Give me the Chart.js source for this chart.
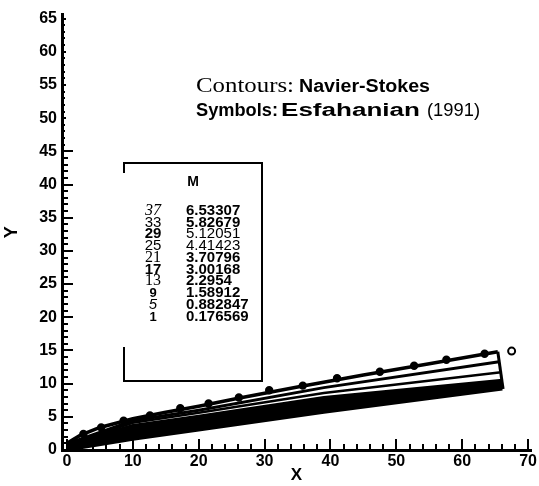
<!DOCTYPE html>
<html>
<head>
<meta charset="utf-8">
<script src="https://cdn.jsdelivr.net/npm/chart.js@4/dist/chart.umd.min.js"></script>
<style>
  html, body { margin: 0; padding: 0; background: #fff; overflow: hidden; }
  #c { display: block; }
</style>
</head>
<body>
<canvas id="c" width="539" height="486"></canvas>
<script>
// ---- Contour lines (Navier-Stokes), X/Y in body units ----
const shockX = [0, 2, 5, 10, 15, 20, 26, 35, 45, 55, 65.4];
const shockY = [1.0, 2.2, 3.4, 4.7, 5.7, 6.6, 7.8, 9.5, 11.3, 13.0, 14.8];

const contour2X = [0, 10, 20, 39, 65.6];
const contour2Y = [0.9, 4.4, 6.0, 9.4, 13.3];

const contour3X = [0, 10, 20, 39, 65.9];
const contour3Y = [0.8, 4.1, 5.6, 8.6, 11.7];

// dense band of contours next to the body surface
const bandX = [0, 10, 20, 39, 66.1];
const bandTopY = [0.8, 3.7, 5.1, 7.9, 10.5];
const bodyY = [0, 1.6, 3.0, 5.7, 9.2];

// outflow boundary
const edgeX = [65.4, 66.2];
const edgeY = [14.8, 9.2];

// ---- Symbols: Esfahanian (1991) ----
const symX = [2.5, 5.2, 8.6, 12.6, 17.2, 21.5, 26.1, 30.7, 35.8, 41.0, 47.5, 52.7, 57.6, 63.4, 67.5];
const symY = [2.4, 3.4, 4.4, 5.2, 6.3, 7.0, 7.9, 9.0, 9.7, 10.8, 11.8, 12.7, 13.6, 14.5, 14.9];

// ---- Contour level table ----
const levels = ['37', '33', '29', '25', '21', '17', '13', '9', '5', '1'];
const machValues = ['6.53307', '5.82679', '5.12051', '4.41423', '3.70796', '3.00168', '2.2954', '1.58912', '0.882847', '0.176569'];

// ---- Axis ticks ----
const xTickValues = [0, 10, 20, 30, 40, 50, 60, 70];
const yTickValues = [0, 5, 10, 15, 20, 25, 30, 35, 40, 45, 50, 55, 60, 65];

const SANS = '"Liberation Sans", Arial, sans-serif';
const SERIF = '"Liberation Serif", "Times New Roman", serif';

const zip = (xs, ys) => xs.map((x, i) => ({ x, y: ys[i] }));

function lineSet(xs, ys, width, extra) {
  return Object.assign({
    data: zip(xs, ys),
    showLine: true,
    borderColor: '#000',
    borderWidth: width,
    pointRadius: 0,
    fill: false,
    tension: 0
  }, extra || {});
}

const lastIdx = symX.length - 1;

const datasets = [
  {
    label: 'Esfahanian (1991)',
    data: zip(symX, symY),
    showLine: false,
    pointStyle: 'circle',
    pointRadius: symX.map((_, i) => i === lastIdx ? 3.5 : 3.2),
    pointBackgroundColor: symX.map((_, i) => i === lastIdx ? '#fff' : '#000'),
    pointBorderColor: '#000',
    pointBorderWidth: 2
  },
  lineSet(shockX, shockY, 3.5),
  lineSet(edgeX, edgeY, 3),
  lineSet(contour2X, contour2Y, 3),
  lineSet(contour3X, contour3Y, 2.5),
  lineSet(bandX, bandTopY, 3, { fill: '+1', backgroundColor: '#000' }),
  lineSet(bandX, bodyY, 3)
];

function fitText(ctx, text, font, x, yBase, width) {
  ctx.font = font;
  const w = ctx.measureText(text).width;
  ctx.save();
  ctx.translate(x, yBase);
  ctx.scale(width / w, 1);
  ctx.fillText(text, 0, 0);
  ctx.restore();
}

// Inside tick marks, annotation text and the level table
const decor = {
  id: 'decor',
  afterDraw(chart) {
    const { ctx, chartArea: a, scales: { x, y } } = chart;
    ctx.save();
    ctx.strokeStyle = '#000';
    ctx.lineWidth = 2;
    for (let v = 0; v <= 65; v++) {
      const py = Math.round(y.getPixelForValue(v));
      const major = v % 5 === 0;
      let len = major ? 11 : 6;
      if (v > 45) len = major ? 4 : 3;
      ctx.beginPath();
      ctx.moveTo(a.left, py);
      ctx.lineTo(a.left + len, py);
      ctx.stroke();
    }
    for (let v = 0; v <= 70; v += 2) {
      const px = Math.round(x.getPixelForValue(v));
      const len = v % 10 === 0 ? 11 : 6;
      ctx.beginPath();
      ctx.moveTo(px, a.bottom);
      ctx.lineTo(px, a.bottom - len);
      ctx.stroke();
    }

    // header
    ctx.fillStyle = '#000';
    ctx.textBaseline = 'alphabetic';
    ctx.textAlign = 'left';
    fitText(ctx, 'Contours:', '22px ' + SERIF, 196, 92, 98);
    fitText(ctx, 'Navier-Stokes', 'bold 18px ' + SANS, 299, 92, 131);
    fitText(ctx, 'Symbols:', 'bold 18px ' + SANS, 196, 116, 82);
    fitText(ctx, 'Esfahanian', 'bold 18px ' + SANS, 281, 116, 139);
    fitText(ctx, '(1991)', '19px ' + SANS, 427, 116, 53);

    // level table frame
    ctx.lineWidth = 2;
    ctx.beginPath();
    ctx.moveTo(124, 173); ctx.lineTo(124, 163); ctx.lineTo(262, 163);
    ctx.lineTo(262, 381); ctx.lineTo(124, 381); ctx.lineTo(124, 347);
    ctx.stroke();

    ctx.textAlign = 'center';
    ctx.font = 'bold 14px ' + SANS;
    ctx.fillText('M', 193, 186);

    const numFonts = [
      'italic 16px ' + SERIF, '15px ' + SANS, 'bold 15px ' + SANS, '15px ' + SANS,
      '16px ' + SERIF, 'bold 15px ' + SANS, '16px ' + SERIF, 'bold 13px ' + SANS,
      'italic 15px ' + SANS, 'bold 13px ' + SANS
    ];
    const valBold = [true, true, false, false, true, true, true, true, true, true];
    levels.forEach((lv, i) => {
      const yb = Math.round(215 + 11.74 * i);
      ctx.textAlign = 'center';
      ctx.font = numFonts[i];
      ctx.fillText(lv, 153, yb);
      ctx.textAlign = 'left';
      ctx.font = (valBold[i] ? 'bold ' : '') + '15px ' + SANS;
      ctx.fillText(machValues[i], 186, yb);
    });
    ctx.restore();
  }
};

new Chart(document.getElementById('c'), {
  type: 'scatter',
  data: { datasets },
  options: {
    responsive: false,
    animation: false,
    events: [],
    layout: { padding: { top: 11, right: 0, bottom: 0, left: 0 }, autoPadding: false },
    plugins: { legend: { display: false }, tooltip: { enabled: false } },
    scales: {
      x: {
        type: 'linear',
        min: -0.75,
        max: 70.45,
        afterFit(s) { s.height = 36; },
        afterBuildTicks(s) { s.ticks = xTickValues.map(v => ({ value: v })); },
        grid: { display: false, drawTicks: false },
        border: { display: true, width: 3, color: '#000' },
        ticks: {
          color: '#000', padding: 2, autoSkip: false, maxRotation: 0,
          font: { family: SANS, size: 16, weight: 'bold' }
        },
        title: {
          display: true, text: 'X', color: '#000', padding: 0,
          font: { family: SANS, size: 17, weight: 'bold' }
        }
      },
      y: {
        type: 'linear',
        min: 0,
        max: 65.6,
        afterFit(s) { s.width = 62; },
        afterBuildTicks(s) { s.ticks = yTickValues.map(v => ({ value: v })); },
        grid: { display: false, drawTicks: false },
        border: { display: true, width: 3, color: '#000' },
        ticks: {
          color: '#000', padding: 5, autoSkip: false,
          font: { family: SANS, size: 16, weight: 'bold' }
        },
        title: {
          display: true, text: 'Y', color: '#000', padding: { top: 1, bottom: 0 },
          font: { family: SANS, size: 18, weight: 'bold' }
        }
      }
    }
  },
  plugins: [decor]
});
</script>
</body>
</html>
